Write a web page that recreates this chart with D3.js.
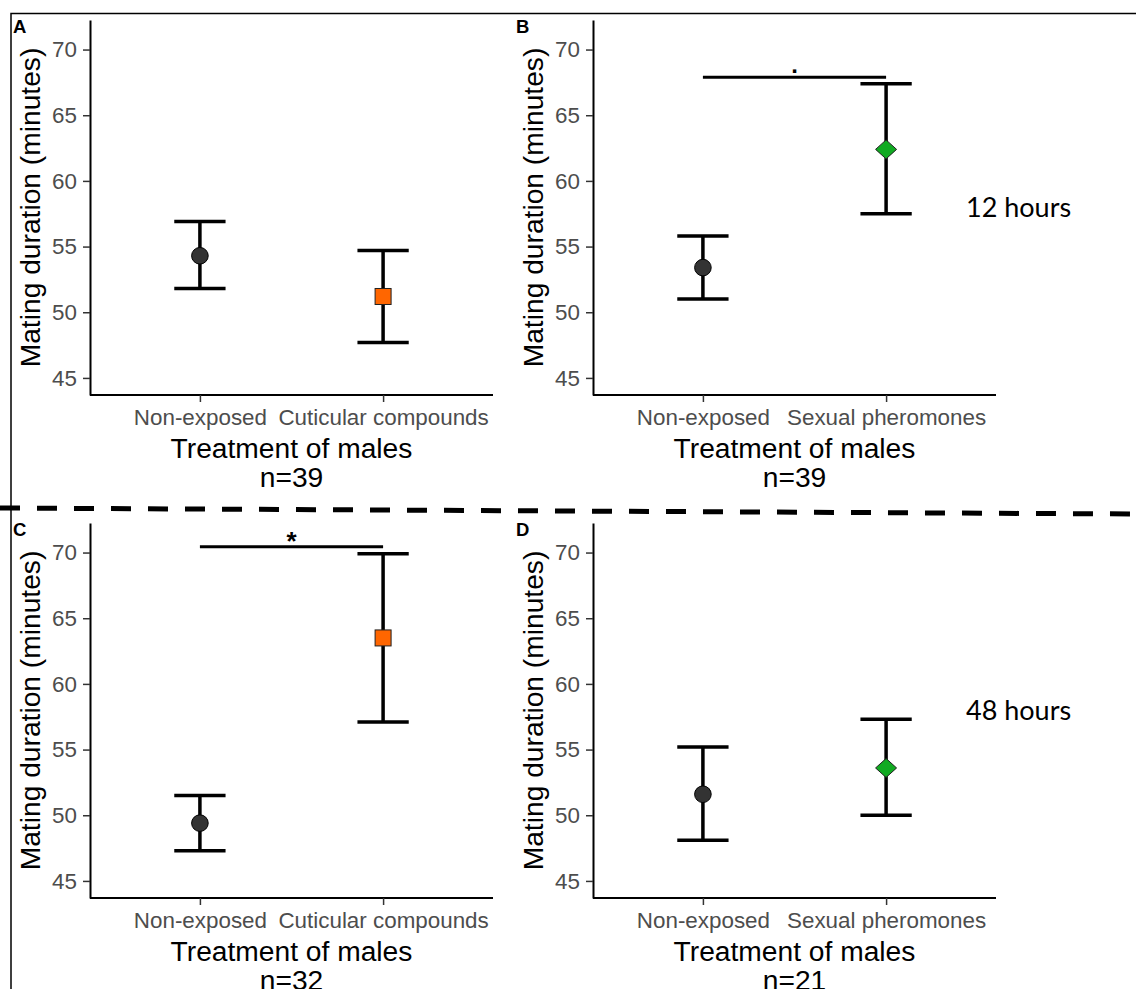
<!DOCTYPE html>
<html>
<head>
<meta charset="utf-8">
<script src="https://cdn.jsdelivr.net/npm/d3@7"></script>
<style>
    body { margin: 0; background: white; }
    svg { display: block; }
</style>
</head>
<body>
<script>
const cuticularGroups = ['Non-exposed', 'Cuticular compounds'];
const pheromoneGroups = ['Non-exposed', 'Sexual pheromones'];

const meansA = [54.3, 51.2];
const lowerA = [51.8, 47.7];
const upperA = [56.9, 54.7];

const meansB = [53.4, 62.4];
const lowerB = [51.0, 57.5];
const upperB = [55.8, 67.4];

const meansC = [49.4, 63.5];
const lowerC = [47.3, 57.1];
const upperC = [51.5, 69.9];

const meansD = [51.6, 53.6];
const lowerD = [48.1, 50.0];
const upperD = [55.2, 57.3];

const sampleSizes = [39, 39, 32, 21];
const panelLabels = ['A', 'B', 'C', 'D'];
const yTicks = [45, 50, 55, 60, 65, 70];
const yDomain = [43.7, 72.25];
const timeLabels = ['12 hours', '48 hours'];

// significance brackets: value of the bar and its mark
const sigB = { value: 67.9, mark: '.' };
const sigC = { value: 70.45, mark: '*' };

const axisFont = '"Liberation Sans", Arial, sans-serif';

window.onload = () => {
    const width = 1136;
    const height = 989;

    const svg = d3.select('body')
                  .append('svg')
                  .attr('width', width)
                  .attr('height', height)
                  .style('background', 'white');

    // frame of the figure
    svg.append('path')
       .attr('d', `M 11 989 L 11 13.5 L ${width} 13.5`)
       .style('fill', 'none')
       .style('stroke', 'black')
       .style('stroke-width', '1.5px');

    // dashed separator between 12 h and 48 h
    svg.append('line')
       .attr('x1', 0).attr('y1', 508)
       .attr('x2', width).attr('y2', 514)
       .style('stroke', 'black')
       .style('stroke-width', '5px')
       .style('stroke-dasharray', '20 17');

    const panels = [
        { label: panelLabels[0], groups: cuticularGroups, means: meansA, lower: lowerA, upper: upperA,
          n: sampleSizes[0], shape: 'square', x: 90, y: 20, sig: null },
        { label: panelLabels[1], groups: pheromoneGroups, means: meansB, lower: lowerB, upper: upperB,
          n: sampleSizes[1], shape: 'diamond', x: 593, y: 20, sig: sigB },
        { label: panelLabels[2], groups: cuticularGroups, means: meansC, lower: lowerC, upper: upperC,
          n: sampleSizes[2], shape: 'square', x: 90, y: 523, sig: sigC },
        { label: panelLabels[3], groups: pheromoneGroups, means: meansD, lower: lowerD, upper: upperD,
          n: sampleSizes[3], shape: 'diamond', x: 593, y: 523, sig: null }
    ];

    panels.forEach((p) => appendPanel(svg, p));

    // time labels on the right
    svg.selectAll('.time')
       .data(timeLabels)
       .enter()
       .append('text')
       .attr('class', 'time')
       .attr('x', 966)
       .attr('y', (d, i) => i === 0 ? 217 : 720)
       .text((d) => d)
       .style('font-family', 'Lato, "Open Sans", sans-serif')
       .style('font-size', '27px')
       .style('fill', 'black');
};

const appendPanel = (svg, p) => {
    const w = 403;
    const h = 375;

    const x = d3.scalePoint()
                .domain(p.groups)
                .range([0, w])
                .padding(0.6);

    const y = d3.scaleLinear()
                .domain(yDomain)
                .range([h, 0]);

    const g = svg.append('g')
                 .attr('transform', `translate(${p.x}, ${p.y})`);

    // y axis
    const yAxis = g.append('g')
                   .call(d3.axisLeft(y)
                           .tickValues(yTicks)
                           .tickSize(7)
                           .tickSizeOuter(0)
                           .tickPadding(6));
    yAxis.select('.domain').style('stroke', 'black').style('stroke-width', '2px');
    yAxis.selectAll('.tick line').style('stroke', '#333').style('stroke-width', '1.5px');
    yAxis.selectAll('.tick text')
         .style('font-family', axisFont)
         .style('font-size', '22.4px')
         .style('fill', '#4d4d4d');

    // x axis
    const xAxis = g.append('g')
                   .attr('transform', `translate(0, ${h})`)
                   .call(d3.axisBottom(x)
                           .tickSize(7)
                           .tickSizeOuter(0)
                           .tickPadding(7));
    xAxis.select('.domain')
         .attr('d', `M 0 0 H ${w}`)
         .style('stroke', 'black')
         .style('stroke-width', '2px');
    xAxis.selectAll('.tick line').style('stroke', '#333').style('stroke-width', '1.5px');
    xAxis.selectAll('.tick text')
         .style('font-family', axisFont)
         .style('font-size', '22.4px')
         .style('fill', '#4d4d4d');

    // axis titles
    g.append('text')
     .attr('transform', `translate(-50, ${h / 2}) rotate(-90)`)
     .attr('text-anchor', 'middle')
     .text('Mating duration (minutes)')
     .style('font-family', axisFont)
     .style('font-size', '28.2px')
     .style('fill', 'black');

    const title = g.append('text')
                   .attr('text-anchor', 'middle')
                   .style('font-family', axisFont)
                   .style('font-size', '28.2px')
                   .style('fill', 'black');
    title.append('tspan')
         .attr('x', w / 2)
         .attr('y', h + 63)
         .text('Treatment of males');
    title.append('tspan')
         .attr('x', w / 2)
         .attr('y', h + 92)
         .text(`n=${p.n}`);

    // panel letter
    g.append('text')
     .attr('x', -77)
     .attr('y', 13)
     .text(p.label)
     .style('font-family', axisFont)
     .style('font-weight', 'bold')
     .style('font-size', '18.5px')
     .style('fill', 'black');

    const rows = p.groups.map((grp, i) => ({
        group: grp, mean: p.means[i], lo: p.lower[i], hi: p.upper[i], i: i
    }));

    const capHalf = x.step() * 0.14;

    const bars = g.selectAll('.errbar')
                  .data(rows)
                  .enter()
                  .append('g')
                  .attr('class', 'errbar');

    bars.append('path')
        .attr('d', (d) => {
            const cx = x(d.group);
            return `M ${cx} ${y(d.lo)} V ${y(d.hi)}` +
                   ` M ${cx - capHalf} ${y(d.hi)} H ${cx + capHalf}` +
                   ` M ${cx - capHalf} ${y(d.lo)} H ${cx + capHalf}`;
        })
        .style('fill', 'none')
        .style('stroke', 'black')
        .style('stroke-width', '3.5px');

    // points
    bars.each(function (d) {
        const sel = d3.select(this);
        const cx = x(d.group);
        const cy = y(d.mean);
        if (d.i === 0) {
            sel.append('circle')
               .attr('cx', cx)
               .attr('cy', cy)
               .attr('r', 8.3)
               .style('fill', '#333333')
               .style('stroke', 'black')
               .style('stroke-width', '1px');
        } else if (p.shape === 'square') {
            sel.append('rect')
               .attr('x', cx - 8)
               .attr('y', cy - 8)
               .attr('width', 16)
               .attr('height', 16)
               .style('fill', '#ff6600')
               .style('stroke', '#222')
               .style('stroke-width', '1px');
        } else {
            sel.append('path')
               .attr('d', `M ${cx} ${cy - 9.5} L ${cx + 10.5} ${cy} L ${cx} ${cy + 9.5} L ${cx - 10.5} ${cy} Z`)
               .style('fill', '#11aa22')
               .style('stroke', '#222')
               .style('stroke-width', '1px');
        }
    });

    // significance bracket
    if (p.sig) {
        const by = y(p.sig.value);
        const x1 = x(p.groups[0]);
        const x2 = x(p.groups[1]);
        g.append('line')
         .attr('x1', x1).attr('y1', by)
         .attr('x2', x2).attr('y2', by)
         .style('stroke', 'black')
         .style('stroke-width', '3px');
        g.append('text')
         .attr('x', (x1 + x2) / 2)
         .attr('y', p.sig.mark === '*' ? by + 3 : by - 4)
         .attr('text-anchor', 'middle')
         .text(p.sig.mark)
         .style('font-family', axisFont)
         .style('font-weight', 'bold')
         .style('font-size', p.sig.mark === '*' ? '26px' : '24px')
         .style('fill', 'black');
    }
};
</script>
</body>
</html>
